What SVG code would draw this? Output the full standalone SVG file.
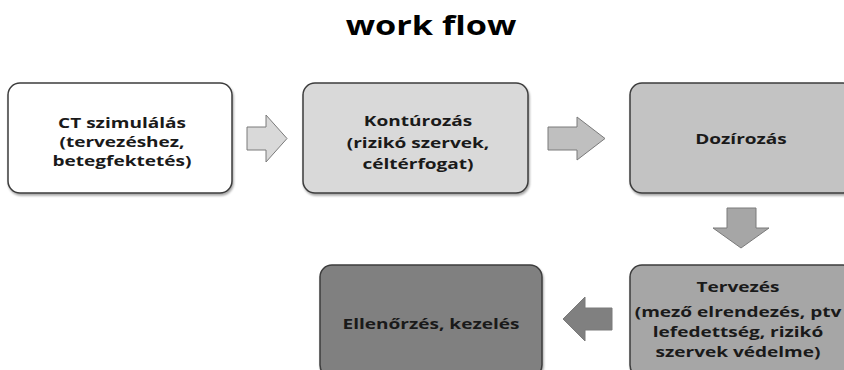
<svg xmlns="http://www.w3.org/2000/svg" width="844" height="370" viewBox="0 0 844 370">
<defs>
<filter id="sh" x="-5%" y="-5%" width="115%" height="120%">
<feDropShadow dx="1" dy="2" stdDeviation="1" flood-color="#000" flood-opacity="0.35"/>
</filter>
<style>
.box{stroke:#3c3c3c;stroke-width:1.5;filter:url(#sh)}
.arr{stroke:#7a7a7a;stroke-width:1}
text{font-family:"Open Sans","Liberation Sans",sans-serif;font-weight:bold;fill:#1a1a1a;text-anchor:middle}
.t{font-size:15px}
.title{font-size:27px;fill:#000}
</style>
</defs>
<rect width="844" height="370" fill="#fff"/>
<g id="title" transform="matrix(1.27 0 0 1 431 0)"><text class="title" x="0" y="35">work flow</text></g>
<g id="connectors">
<polygon class="arr" fill="#d9d9d9" points="247,127 266,127 266,115 287,138.5 266,162 266,150 247,150"/>
<polygon class="arr" fill="#bfbfbf" points="548,127 577,127 577,117 605,138.5 577,160 577,150 548,150"/>
<polygon class="arr" fill="#a6a6a6" points="727,208 756,208 756,228 769,228 741,248 713,228 727,228"/>
<polygon class="arr" fill="#808080" points="612,308 585,308 585,297 563,319 585,341 585,330 612,330"/>
</g>
<g id="n1">
<rect class="box" x="8" y="83" width="224" height="110" rx="12" fill="#ffffff"/>
<g transform="matrix(1.27 0 0 1 122 0)">
<text class="t" x="0" y="128">CT szimulálás</text>
<text class="t" x="0" y="147">(tervezéshez,</text>
<text class="t" x="0" y="166">betegfektetés)</text>
</g>
</g>
<g id="n2">
<rect class="box" x="303" y="83" width="225" height="110" rx="12" fill="#d9d9d9"/>
<g transform="matrix(1.27 0 0 1 418 0)">
<text class="t" x="0" y="126">Kontúrozás</text>
<text class="t" x="0" y="148">(rizikó szervek,</text>
<text class="t" x="0" y="169">céltérfogat)</text>
</g>
</g>
<g id="n3">
<rect class="box" x="630" y="83" width="225" height="110" rx="12" fill="#c3c3c3"/>
<g transform="matrix(1.27 0 0 1 741 0)">
<text class="t" x="0" y="144">Dozírozás</text>
</g>
</g>
<g id="n4">
<rect class="box" x="630" y="265" width="225" height="112" rx="12" fill="#a6a6a6"/>
<g transform="matrix(1.27 0 0 1 738 0)">
<text class="t" x="0" y="292">Tervezés</text>
<text class="t" x="0" y="317">(mező elrendezés, ptv</text>
<text class="t" x="0" y="337">lefedettség, rizikó</text>
<text class="t" x="0" y="357">szervek védelme)</text>
</g>
</g>
<g id="n5">
<rect class="box" x="320" y="265" width="222" height="112" rx="12" fill="#808080"/>
<g transform="matrix(1.27 0 0 1 431 0)">
<text class="t" x="0" y="329">Ellenőrzés, kezelés</text>
</g>
</g>
</svg>
